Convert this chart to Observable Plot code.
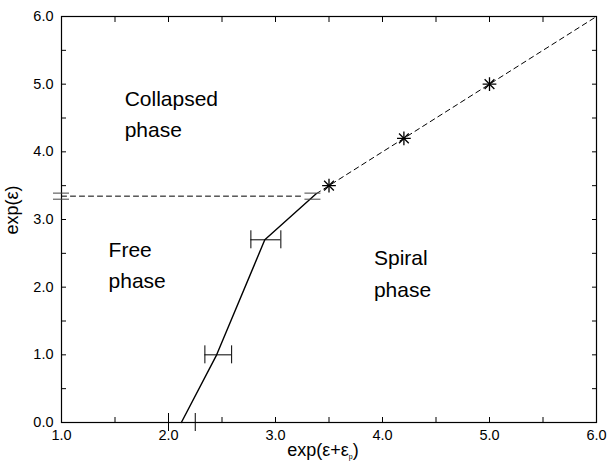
<!DOCTYPE html>
<html>
<head>
<meta charset="utf-8">
<script src="https://cdn.jsdelivr.net/npm/d3@7"></script>
<script src="https://cdn.jsdelivr.net/npm/@observablehq/plot@0.6"></script>
<style>
  html, body { margin: 0; padding: 0; background: #fff; }
  #chart svg { display: block; }
</style>
</head>
<body>
<div id="chart"></div>
<script>
// Phase boundary (solid)
const boundaryX = [2.12, 2.45, 2.9, 3.38];
const boundaryY = [0.0, 1.0, 2.7, 3.38];
// Diagonal dashed line exp(eps) = exp(eps+eps_p)
const diagX = [3.38, 6.0];
const diagY = [3.38, 6.0];
// Horizontal dashed line (collapse threshold)
const threshX = [1.0, 3.27];
const threshY = [3.345, 3.345];
// Horizontal error bars
const xErrY = [0.0, 1.0, 2.7];
const xErrLo = [2.0, 2.34, 2.77];
const xErrHi = [2.25, 2.59, 3.05];
// Vertical error bars (caps)
const yErrX = [1.0, 3.35];
const yErrLo = [3.30, 3.30];
const yErrHi = [3.39, 3.39];
// Star points
const starX = [3.5, 4.2, 5.0];
const starY = [3.5, 4.2, 5.0];
// Tick values
const majorTicksX = [1, 2, 3, 4, 5, 6];
const majorTicksY = [0, 1, 2, 3, 4, 5, 6];
const minorTicksX = [1, 1.5, 2, 2.5, 3, 3.5, 4, 4.5, 5, 5.5, 6];
const minorTicksY = [0, 0.5, 1, 1.5, 2, 2.5, 3, 3.5, 4, 4.5, 5, 5.5, 6];
// Region labels
const regionNames = ["Collapsed\nphase", "Free\nphase", "Spiral\nphase"];
const regionX = [1.59, 1.44, 3.92];
const regionY = [4.6, 2.365, 2.24];

const boundary = boundaryX.map((x, i) => ({x, y: boundaryY[i]}));
const diag = diagX.map((x, i) => ({x, y: diagY[i]}));
const thresh = threshX.map((x, i) => ({x, y: threshY[i]}));
const xErr = xErrY.map((y, i) => ({y, lo: xErrLo[i], hi: xErrHi[i]}));
const yErr = yErrX.map((x, i) => ({x, lo: yErrLo[i], hi: yErrHi[i]}));
const stars = starX.map((x, i) => ({x, y: starY[i]}));
const regions = regionNames.map((t, i) => ({t, x: regionX[i], y: regionY[i]}));

const fmt = d3.format(".1f");
const font = "'Liberation Sans', Arial, Helvetica, sans-serif";

const plot = Plot.plot({
  width: 607,
  height: 464,
  marginLeft: 61,
  marginRight: 11,
  marginTop: 16,
  marginBottom: 42,
  x: {domain: [1, 6]},
  y: {domain: [0, 6]},
  style: {fontFamily: font, background: "white", color: "black"},
  marks: [
    // inward ticks on all four sides
    Plot.axisX(minorTicksX, {anchor: "bottom", tickSize: -5, tickFormat: () => "", label: null}),
    Plot.axisX(minorTicksX, {anchor: "top", tickSize: -5, tickFormat: () => "", label: null}),
    Plot.axisY(minorTicksY, {anchor: "left", tickSize: -5, tickFormat: () => "", label: null}),
    Plot.axisY(minorTicksY, {anchor: "right", tickSize: -5, tickFormat: () => "", label: null}),
    // tick labels
    Plot.axisX(majorTicksX, {anchor: "bottom", tickSize: 0, tickPadding: 7, tickFormat: fmt, fontSize: 14.5, label: null}),
    Plot.axisY(majorTicksY, {anchor: "left", tickSize: 0, tickPadding: 8, tickFormat: fmt, fontSize: 14.5, label: null}),
    Plot.frame({stroke: "black", strokeWidth: 1.2}),
    // dashed lines
    Plot.line(thresh, {x: "x", y: "y", stroke: "black", strokeWidth: 1, strokeDasharray: "5,4"}),
    Plot.line(diag, {x: "x", y: "y", stroke: "black", strokeWidth: 1, strokeDasharray: "5,4"}),
    // solid boundary
    Plot.line(boundary, {x: "x", y: "y", stroke: "black", strokeWidth: 1.4}),
    // horizontal error bars
    Plot.ruleY(xErr.filter(d => d.y > 0), {y: "y", x1: "lo", x2: "hi", stroke: "black", strokeWidth: 1}),
    Plot.ruleX(xErr, {x: "lo", y1: "y", y2: "y", insetTop: -9, insetBottom: -9, stroke: "black", strokeWidth: 1}),
    Plot.ruleX(xErr, {x: "hi", y1: "y", y2: "y", insetTop: -9, insetBottom: -9, stroke: "black", strokeWidth: 1}),
    // vertical error bar caps
    Plot.ruleY(yErr, {y: "lo", x1: "x", x2: "x", insetLeft: -8, insetRight: -8, stroke: "#444", strokeWidth: 1}),
    Plot.ruleY(yErr, {y: "hi", x1: "x", x2: "x", insetLeft: -8, insetRight: -8, stroke: "#444", strokeWidth: 1}),
    // stars
    Plot.dot(stars, {x: "x", y: "y", symbol: "plus", r: 4.5, stroke: "black", strokeWidth: 1.3}),
    Plot.dot(stars, {x: "x", y: "y", symbol: "times", r: 4.5, stroke: "black", strokeWidth: 1.3}),
    // region labels
    Plot.text(regions, {x: "x", y: "y", text: "t", textAnchor: "start", lineAnchor: "middle", lineHeight: 1.5, fontSize: 21, fill: "black"})
  ]
});

document.getElementById("chart").appendChild(plot);

const svg = d3.select(plot);
// y axis title
svg.append("text")
  .attr("transform", "translate(18,210) rotate(-90)")
  .attr("text-anchor", "middle")
  .attr("font-family", font)
  .attr("font-size", 18)
  .attr("fill", "black")
  .text("exp(ε)");
// x axis title with subscript
const xt = svg.append("text")
  .attr("x", 323)
  .attr("y", 456)
  .attr("text-anchor", "middle")
  .attr("font-family", font)
  .attr("font-size", 18)
  .attr("fill", "black");
xt.append("tspan").text("exp(ε+ε");
xt.append("tspan").attr("font-size", 7).attr("dy", 3).text("p");
xt.append("tspan").attr("dy", -3).text(")");
</script>
</body>
</html>
